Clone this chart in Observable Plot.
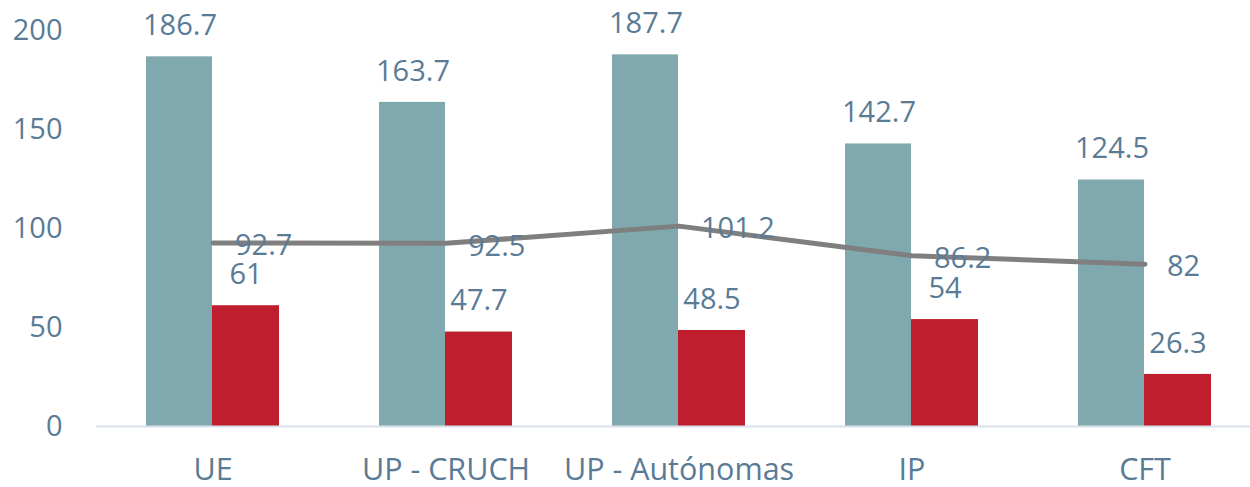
<!DOCTYPE html>
<html>
<head>
<meta charset="utf-8">
<script src="https://cdn.jsdelivr.net/npm/d3@7"></script>
<script src="https://cdn.jsdelivr.net/npm/@observablehq/plot@0.6"></script>
<style>
  html, body { margin: 0; padding: 0; background: #fff; }
</style>
</head>
<body>
<div id="chart"></div>
<script>
const categories = ["UE", "UP - CRUCH", "UP - Autónomas", "IP", "CFT"];
const serieA = [186.7, 163.7, 187.7, 142.7, 124.5];
const serieB = [61, 47.7, 48.5, 54, 26.3];
const serieLinea = [92.7, 92.5, 101.2, 86.2, 82];
const yTicks = [0, 50, 100, 150, 200];

const data = categories.map((c, i) => ({cat: c, a: serieA[i], b: serieB[i], l: serieLinea[i]}));

const textColor = "#5A7B96";
const teal = "#7FA9AE";
const red = "#BE1E2D";
const grey = "#7F7F7F";

const chart = Plot.plot({
  width: 1250,
  height: 487,
  marginTop: 30,
  marginBottom: 61,
  marginLeft: 96,
  marginRight: 0,
  style: {fontFamily: "'Open Sans', sans-serif", fontSize: "29px", color: textColor, background: "#fff"},
  x: {domain: categories, range: [96, 1261], padding: 0, label: null},
  y: {domain: [0, 200], label: null},
  marks: [
    Plot.barY(data, {x: "cat", y: "a", fill: teal, insetLeft: 50, insetRight: 117}),
    Plot.barY(data, {x: "cat", y: "b", fill: red, insetLeft: 116, insetRight: 50}),
    Plot.ruleY([0], {stroke: "#D9E1EA", strokeWidth: 2}),
    Plot.line(data, {x: "cat", y: "l", stroke: grey, strokeWidth: 5, strokeLinecap: "round"}),
    Plot.text(data, {x: "cat", y: "a", text: d => String(d.a), dx: -33, dy: -31, fill: textColor, fontSize: 29}),
    Plot.text(data, {x: "cat", y: "b", text: d => String(d.b), dx: 33, dy: -31, fill: textColor, fontSize: 29}),
    Plot.text(data, {x: "cat", y: "l", text: d => String(d.l), dx: 22, dy: 3, textAnchor: "start", fill: textColor, fontSize: 29}),
    Plot.axisY({ticks: yTicks, tickSize: 0, tickPadding: 34, fill: textColor, fontSize: 29, label: null}),
    Plot.axisX({tickSize: 0, tickPadding: 32, fill: textColor, fontSize: 30.5, label: null})
  ]
});
document.getElementById("chart").appendChild(chart);
</script>
</body>
</html>
